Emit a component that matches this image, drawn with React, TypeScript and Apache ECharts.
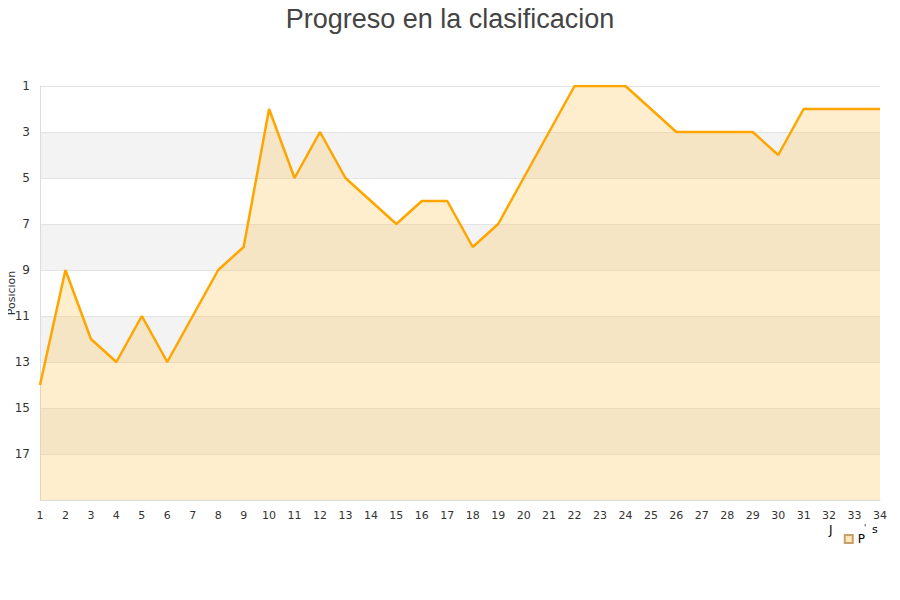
import React, { useEffect, useRef } from "react";
import * as echarts from "echarts";

const jornadas = ["1","2","3","4","5","6","7","8","9","10","11","12","13","14","15","16","17","18","19","20","21","22","23","24","25","26","27","28","29","30","31","32","33","34"];
const posiciones = [14, 9, 12, 13, 11, 13, 11, 9, 8, 2, 5, 3, 5, 6, 7, 6, 6, 8, 7, 5, 3, 1, 1, 1, 2, 3, 3, 3, 3, 4, 2, 2, 2, 2];

export default function App() {
  const ref = useRef<HTMLDivElement>(null);
  useEffect(() => {
    if (!ref.current) return;
    const chart = echarts.init(ref.current, undefined, { renderer: "svg" });
    chart.setOption({
      animation: false,
      title: {
        text: "Progreso en la clasificacion",
        left: "center",
        top: 0,
        textStyle: { fontSize: 27, fontWeight: "normal", color: "#444", fontFamily: "Liberation Sans" },
      },
      legend: {
        data: [{ name: "P", icon: "rect" }],
        right: 30,
        top: 528,
        itemWidth: 8,
        itemHeight: 8,
        itemGap: 4,
        textStyle: { fontSize: 12, color: "#000", fontFamily: "DejaVu Sans" },
      },
      graphic: [
        {
          type: "text",
          x: 11,
          y: 293,
          rotation: Math.PI / 2,
          style: { text: "Posicion", fontSize: 11, fill: "#333", fontFamily: "DejaVu Sans", align: "center", verticalAlign: "middle" },
        },
        { type: "text", left: 829, top: 524, style: { text: "J", fontSize: 12, fill: "#000", fontFamily: "DejaVu Sans" } },
        { type: "text", left: 864, top: 524, style: { text: "'", fontSize: 8, fill: "#000", fontFamily: "DejaVu Sans" } },
        { type: "text", left: 872, top: 524, style: { text: "s", fontSize: 11, fill: "#000", fontFamily: "DejaVu Sans" } },
      ],
      grid: { left: 40, right: 20, top: 86, bottom: 100, containLabel: false, outerBoundsMode: "none" },
      xAxis: {
        type: "category",
        data: jornadas,
        boundaryGap: false,
        axisLine: { lineStyle: { color: "#ddd" } },
        axisTick: { show: false },
        axisLabel: { color: "#333", fontSize: 11, margin: 10, fontFamily: "DejaVu Sans" },
      },
      yAxis: {
        type: "value",
        inverse: true,
        min: 1,
        max: 19,
        interval: 2,
        axisLine: { show: true, lineStyle: { color: "#ddd" } },
        axisTick: { show: false },
        axisLabel: {
          color: "#333",
          fontSize: 12,
          margin: 10,
          fontFamily: "DejaVu Sans",
          formatter: (v: number) => (v === 19 ? "" : String(v)),
        },
        splitLine: { show: true, lineStyle: { color: "#e3e3e3" } },
        splitArea: { show: true, areaStyle: { color: ["#ffffff", "#f3f3f3"] } },
      },
      series: [
        {
          name: "P",
          type: "line",
          data: posiciones,
          showSymbol: false,
          symbol: "none",
          lineStyle: { color: "#ffa500", width: 2.5 },
          itemStyle: { color: "#ffe7bb", borderColor: "#c8a06e", borderWidth: 1 },
          areaStyle: { color: "rgba(255,193,77,0.28)", opacity: 1, origin: "end" },
        },
      ],
    });
    return () => chart.dispose();
  }, []);
  return <div ref={ref} style={{ width: 900, height: 600, margin: -8 }} />;
}
